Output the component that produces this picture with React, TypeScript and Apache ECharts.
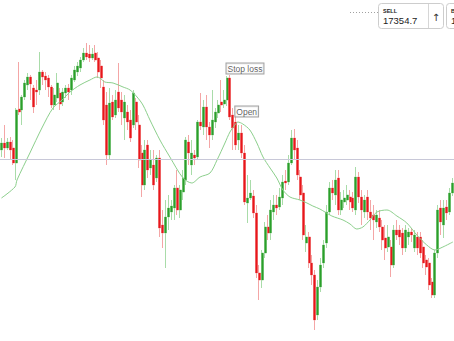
import React, { useEffect, useRef } from "react";
import * as echarts from "echarts";

// OHLC prices (one entry per candle)
const opens = [
  17350, 17357, 17352, 17358, 17352, 17337, 17391, 17390, 17403, 17415,
  17423, 17412, 17410, 17410, 17428, 17424, 17422, 17413, 17395, 17402,
  17407, 17398, 17407, 17412, 17410, 17420, 17428, 17432, 17440, 17447,
  17446, 17442, 17447, 17442, 17434, 17413, 17395, 17345, 17398, 17385,
  17408, 17400, 17382, 17388, 17380, 17375, 17398, 17375, 17347, 17315,
  17355, 17332, 17335, 17322, 17342, 17275, 17267, 17283, 17288, 17292,
  17312, 17290, 17308, 17320, 17358, 17335, 17345, 17343, 17378, 17373,
  17393, 17373, 17365, 17378, 17387, 17398, 17396, 17400, 17422, 17385,
  17378, 17360, 17367, 17347, 17297, 17302, 17304, 17287, 17227, 17220,
  17247, 17273, 17267, 17288, 17295, 17293, 17302, 17319, 17318, 17337,
  17362, 17352, 17323, 17307, 17257, 17263, 17237, 17225, 17185, 17213,
  17237, 17257, 17288, 17312, 17305, 17322, 17290, 17298, 17300, 17303,
  17302, 17290, 17323, 17303, 17288, 17303, 17288, 17285, 17278, 17282,
  17273, 17262, 17253, 17253, 17235, 17270, 17270, 17267, 17252, 17263,
  17268, 17252, 17263, 17263, 17253, 17240, 17237, 17218, 17205, 17247,
  17292, 17275, 17293, 17288, 17307,
];
const closes = [
  17357, 17352, 17358, 17350, 17337, 17390, 17388, 17403, 17417, 17423,
  17416, 17393, 17408, 17428, 17423, 17420, 17413, 17395, 17405, 17417,
  17396, 17408, 17412, 17408, 17422, 17430, 17434, 17440, 17447, 17443,
  17442, 17446, 17440, 17428, 17422, 17380, 17345, 17397, 17383, 17400,
  17392, 17388, 17398, 17378, 17362, 17407, 17378, 17340, 17315, 17350,
  17330, 17340, 17315, 17342, 17272, 17267, 17283, 17292, 17294, 17312,
  17290, 17310, 17322, 17360, 17347, 17347, 17342, 17378, 17374, 17393,
  17373, 17365, 17380, 17388, 17395, 17395, 17400, 17422, 17383, 17372,
  17355, 17367, 17347, 17298, 17302, 17307, 17287, 17227, 17220, 17247,
  17273, 17267, 17290, 17295, 17292, 17303, 17318, 17317, 17337, 17362,
  17350, 17325, 17305, 17265, 17263, 17237, 17225, 17180, 17213, 17235,
  17255, 17288, 17312, 17307, 17320, 17290, 17300, 17302, 17305, 17298,
  17292, 17323, 17303, 17290, 17300, 17288, 17282, 17280, 17285, 17273,
  17260, 17252, 17263, 17235, 17270, 17265, 17263, 17252, 17270, 17268,
  17265, 17265, 17252, 17247, 17237, 17233, 17215, 17205, 17247, 17290,
  17278, 17292, 17287, 17307, 17317,
];
const lows = [
  17343, 17342, 17350, 17340, 17335, 17320, 17385, 17375, 17400, 17410,
  17400, 17387, 17395, 17405, 17415, 17410, 17403, 17392, 17390, 17398,
  17390, 17394, 17402, 17400, 17405, 17418, 17424, 17428, 17438, 17440,
  17438, 17440, 17438, 17422, 17412, 17375, 17335, 17340, 17380, 17382,
  17388, 17375, 17360, 17370, 17358, 17372, 17370, 17332, 17303, 17310,
  17322, 17325, 17310, 17318, 17263, 17252, 17232, 17270, 17280, 17280,
  17285, 17282, 17300, 17315, 17335, 17325, 17335, 17340, 17370, 17365,
  17360, 17352, 17360, 17372, 17382, 17388, 17392, 17394, 17380, 17350,
  17350, 17350, 17342, 17295, 17277, 17300, 17282, 17222, 17200, 17212,
  17242, 17260, 17260, 17280, 17285, 17290, 17295, 17310, 17315, 17335,
  17340, 17320, 17300, 17260, 17248, 17232, 17215, 17170, 17180, 17208,
  17232, 17252, 17285, 17300, 17295, 17285, 17285, 17292, 17295, 17290,
  17288, 17285, 17297, 17275, 17282, 17280, 17270, 17260, 17272, 17268,
  17250, 17240, 17248, 17223, 17232, 17260, 17255, 17245, 17248, 17255,
  17258, 17248, 17245, 17242, 17232, 17225, 17210, 17202, 17202, 17242,
  17265, 17262, 17280, 17285, 17304,
];
const highs = [
  17362, 17375, 17362, 17363, 17360, 17392, 17438, 17405, 17420, 17427,
  17425, 17415, 17420, 17448, 17430, 17428, 17425, 17415, 17412, 17427,
  17412, 17412, 17415, 17416, 17425, 17434, 17438, 17443, 17452, 17457,
  17455, 17452, 17455, 17448, 17440, 17420, 17408, 17412, 17405, 17410,
  17437, 17408, 17405, 17395, 17390, 17410, 17402, 17385, 17355, 17360,
  17360, 17350, 17350, 17345, 17350, 17290, 17300, 17305, 17300, 17315,
  17330, 17315, 17330, 17363, 17365, 17360, 17350, 17380, 17407, 17400,
  17405, 17378, 17410, 17392, 17400, 17420, 17410, 17424, 17425, 17392,
  17385, 17375, 17375, 17355, 17325, 17320, 17310, 17295, 17235, 17250,
  17278, 17285, 17300, 17305, 17305, 17312, 17325, 17330, 17345, 17370,
  17371, 17360, 17330, 17315, 17275, 17268, 17245, 17230, 17220, 17242,
  17260, 17295, 17318, 17320, 17330, 17330, 17308, 17310, 17315, 17310,
  17308, 17333, 17328, 17310, 17305, 17310, 17300, 17295, 17290, 17290,
  17280, 17275, 17275, 17260, 17275, 17280, 17275, 17272, 17275, 17272,
  17272, 17270, 17268, 17268, 17260, 17245, 17242, 17222, 17250, 17295,
  17300, 17300, 17300, 17312, 17322,
];

// Moving-average line: candle positions and values
const maIdx = [
  0, 4.6, 5.3, 9.7, 13.8, 17.6, 20.7, 23.4, 26.8, 30.2, 32.6, 33.6, 35.3,
  38.1, 41.5, 43.9, 46.3, 48.3, 50.7, 54.1, 57.5, 62, 65, 67.8, 71.2, 73.6,
  76.3, 78, 79.7, 80.7, 82.4, 84.8, 87.2, 89.3, 91.7, 94, 96.1, 98.5, 101.9,
  104.3, 106.3, 108.7, 112.8, 116.6, 119, 121.3, 123.4, 125.8, 128.2, 131.6,
  135, 138.4, 141.8, 145.2, 148, 150.7, 154.1,
];
const maVal = [
  17302, 17313, 17320, 17347, 17372, 17392, 17400, 17408, 17415, 17420,
  17423, 17422, 17418, 17417, 17413, 17410, 17403, 17395, 17380, 17360,
  17343, 17322, 17317, 17323, 17327, 17340, 17357, 17368, 17375, 17378,
  17376, 17370, 17357, 17343, 17332, 17322, 17310, 17303, 17300, 17297,
  17294, 17291, 17284, 17280, 17276, 17271, 17273, 17280, 17288, 17290,
  17284, 17277, 17265, 17255, 17250, 17253, 17258,
];

const refLevel = 17341;
const sellLabel = "SELL";
const sellPrice = "17354.7";
const buyLabel = "BUY";
const buyPrice = "17356.1";
const markIdx = [77, 80];
const markPrice = [17426, 17383];
const markText = ["Stop loss", "Open"];

const UP = "#2b9f2b";
const DOWN = "#e8161b";
const UP_PALE = "#a9dca9";
const DOWN_PALE = "#f4a6a6";

export default function App() {
  const ref = useRef<HTMLDivElement>(null);
  useEffect(() => {
    const chart = echarts.init(ref.current!, null, { renderer: "svg" });
    const n = opens.length;
    const cats = opens.map((_, i) => String(i));
    const wick = opens.map((o, i) => [o, closes[i], lows[i], highs[i]]);
    const body = opens.map((o, i) => [
      o,
      closes[i],
      Math.min(o, closes[i]),
      Math.max(o, closes[i]),
    ]);
    const ff = '"Liberation Sans", Arial, sans-serif';
    chart.setOption({
      animation: false,
      grid: { left: 0, right: 0, top: 0, bottom: 0 },
      xAxis: [
        { type: "category", data: cats, show: false, boundaryGap: true },
        { type: "value", show: false, min: -0.5, max: n - 0.5 },
      ],
      yAxis: { type: "value", show: false, min: 17159, max: 17500, splitLine: { show: false } },
      series: [
        {
          type: "candlestick",
          xAxisIndex: 0,
          data: wick,
          barWidth: 2.5,
          silent: true,
          itemStyle: {
            color: UP_PALE,
            color0: DOWN_PALE,
            borderColor: UP_PALE,
            borderColor0: DOWN_PALE,
            borderWidth: 1,
          },
          markLine: {
            silent: true,
            symbol: ["none", "none"],
            label: { show: false },
            lineStyle: { color: "#c8c8d8", width: 1, type: "solid" },
            data: [{ yAxis: refLevel }],
          },
          z: 1,
        },
        {
          type: "candlestick",
          xAxisIndex: 0,
          data: body,
          barWidth: 2.5,
          silent: true,
          itemStyle: {
            color: UP,
            color0: DOWN,
            borderColor: UP,
            borderColor0: DOWN,
            borderWidth: 0,
          },
          z: 2,
        },
        {
          type: "line",
          xAxisIndex: 1,
          data: maIdx.map((x, i) => [x, maVal[i]]),
          smooth: 0.3,
          showSymbol: false,
          silent: true,
          lineStyle: { color: "#8ccf8c", width: 1 },
          z: 3,
        },
        {
          type: "scatter",
          xAxisIndex: 0,
          data: markIdx.map((x, i) => ({ value: [x, markPrice[i]], name: markText[i] })),
          symbol: "circle",
          symbolSize: 1,
          itemStyle: { color: "rgba(0,0,0,0)" },
          silent: true,
          z: 5,
          label: {
            show: true,
            position: [0, 0],
            align: "left",
            verticalAlign: "bottom",
            formatter: (p: any) => p.name,
            fontFamily: ff,
            fontSize: 8.5,
            color: "#333",
            backgroundColor: "#ffffff",
            borderColor: "#8a8a8a",
            borderWidth: 1,
            padding: [1, 1, 0, 1],
          },
        },
      ],
      graphic: [
        {
          type: "line",
          shape: { x1: 350, y1: 12.5, x2: 378, y2: 12.5 },
          style: { stroke: "#a0a0a0", lineWidth: 1, lineDash: [1, 2] },
        },
        {
          type: "rect",
          shape: { x: 378.5, y: 3.5, width: 65, height: 25, r: 3 },
          style: { fill: "#ffffff", stroke: "#cdcdcd", lineWidth: 1 },
        },
        {
          type: "text",
          x: 383,
          y: 8,
          style: { text: sellLabel, fontFamily: ff, fontSize: 5.5, fontWeight: "bold", fill: "#222" },
        },
        {
          type: "text",
          x: 383,
          y: 15.5,
          style: { text: sellPrice, fontFamily: ff, fontSize: 9.5, fill: "#222" },
        },
        {
          type: "line",
          shape: { x1: 428.5, y1: 4, x2: 428.5, y2: 28 },
          style: { stroke: "#d6d6d6", lineWidth: 1 },
        },
        {
          type: "text",
          x: 436,
          y: 17,
          style: {
            text: "↑",
            fontFamily: '"DejaVu Sans", sans-serif',
            fontSize: 10,
            fill: "#333",
            align: "center",
            verticalAlign: "middle",
          },
        },
        {
          type: "rect",
          shape: { x: 446.5, y: 3.5, width: 65, height: 25, r: 3 },
          style: { fill: "#ffffff", stroke: "#cdcdcd", lineWidth: 1 },
        },
        {
          type: "text",
          x: 451,
          y: 8,
          style: { text: buyLabel, fontFamily: ff, fontSize: 5.5, fontWeight: "bold", fill: "#222" },
        },
        {
          type: "text",
          x: 451,
          y: 15.5,
          style: { text: buyPrice, fontFamily: ff, fontSize: 9.5, fill: "#222" },
        },
      ],
    });
    return () => chart.dispose();
  }, []);
  return (
    <div
      ref={ref}
      style={{ position: "absolute", left: 0, top: 0, width: 454, height: 341, background: "#ffffff" }}
    />
  );
}
